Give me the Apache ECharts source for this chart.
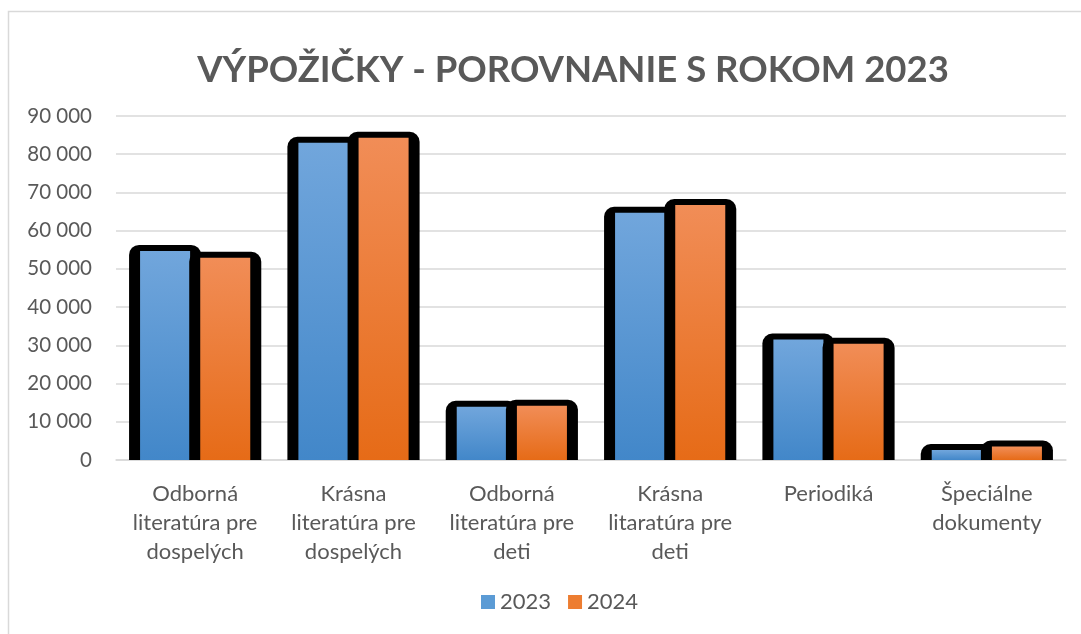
<!DOCTYPE html>
<html>
<head>
<meta charset="utf-8">
<script src="https://cdn.jsdelivr.net/npm/echarts@6/dist/echarts.min.js"></script>
<style>
  html, body { margin: 0; padding: 0; background: #fff; }
  #chart { width: 1081px; height: 634px; }
</style>
</head>
<body>
<div id="chart"></div>
<script>
// údaje odčítané z grafu
const categories = [
  "Odborná\nliteratúra pre\ndospelých",
  "Krásna\nliteratúra pre\ndospelých",
  "Odborná\nliteratúra pre\ndeti",
  "Krásna\nlitaratúra pre\ndeti",
  "Periodiká",
  "Špeciálne\ndokumenty"
];
const values2023 = [54700, 83000, 13900, 64700, 31500, 2600];
const values2024 = [52900, 84300, 14200, 66700, 30400, 3500];
const yTicks = { min: 0, max: 90000, interval: 10000 };

const textColor = "#595959";
const font = "Lato";

const blueGrad = new echarts.graphic.LinearGradient(0, 0, 0, 1, [
  { offset: 0, color: "#71a6dc" },
  { offset: 1, color: "#4287c9" }
]);
const orangeGrad = new echarts.graphic.LinearGradient(0, 0, 0, 1, [
  { offset: 0, color: "#f18d57" },
  { offset: 1, color: "#e66b17" }
]);

// stĺpec s čiernym orámovaním (ako v Exceli)
function makeRender(offsetRatio, fill) {
  return function (params, api) {
    const idx = api.value(0);
    const top = api.coord([idx, api.value(1)]);
    const base = api.coord([idx, 0]);
    const band = api.size([1, 0])[0];
    const w = band * 0.316;
    const cx = top[0] + band * offsetRatio;
    const x = cx - w / 2;
    return {
      type: "group",
      children: [
        {
          type: "rect",
          shape: { x: x - 11, y: top[1] - 6, width: w + 22, height: base[1] - top[1] + 6, r: [10, 10, 0, 0] },
          style: { fill: "#000" }
        },
        {
          type: "rect",
          shape: { x: x, y: top[1], width: w, height: base[1] - top[1] },
          style: { fill: fill }
        }
      ]
    };
  };
}

const chart = echarts.init(document.getElementById("chart"));
chart.setOption({
  backgroundColor: "#fff",
  animation: false,
  title: {
    text: "VÝPOŽIČKY - POROVNANIE S ROKOM 2023",
    left: 568,
    textAlign: "center",
    top: 47,
    textStyle: { fontFamily: font, fontSize: 36.5, fontWeight: "bold", color: textColor }
  },
  graphic: [{
    type: "rect",
    shape: { x: 8.5, y: 11.5, width: 1100, height: 700 },
    style: { fill: "none", stroke: "#d9d9d9", lineWidth: 1.5 },
    silent: true
  }],
  legend: {
    bottom: 16,
    left: 476,
    itemWidth: 14,
    itemHeight: 14,
    itemGap: 17,
    icon: "rect",
    textStyle: { fontFamily: font, fontSize: 22, color: textColor },
    data: ["2023", "2024"]
  },
  grid: { left: 116, right: 15, top: 116, bottom: 174 },
  xAxis: {
    type: "category",
    data: categories,
    axisLine: { lineStyle: { color: "#d9d9d9", width: 1.5 } },
    axisTick: { show: false },
    axisLabel: { fontFamily: font, fontSize: 22, color: textColor, lineHeight: 29, margin: 19, interval: 0 }
  },
  yAxis: {
    type: "value",
    min: yTicks.min,
    max: yTicks.max,
    interval: yTicks.interval,
    axisLine: { show: false },
    axisTick: { show: false },
    splitLine: { lineStyle: { color: "#d9d9d9", width: 1.5 } },
    axisLabel: {
      fontFamily: font, fontSize: 20.5, color: textColor, margin: 24,
      formatter: v => String(v).replace(/\B(?=(\d{3})+(?!\d))/g, " ")
    }
  },
  series: [
    {
      name: "2023",
      type: "custom",
      renderItem: makeRender(-0.19, blueGrad),
      itemStyle: { color: "#5b9bd5" },
      encode: { x: 0, y: 1 },
      data: values2023.map((v, i) => [i, v])
    },
    {
      name: "2024",
      type: "custom",
      renderItem: makeRender(0.19, orangeGrad),
      itemStyle: { color: "#ed7d31" },
      encode: { x: 0, y: 1 },
      data: values2024.map((v, i) => [i, v])
    }
  ]
});
</script>
</body>
</html>
